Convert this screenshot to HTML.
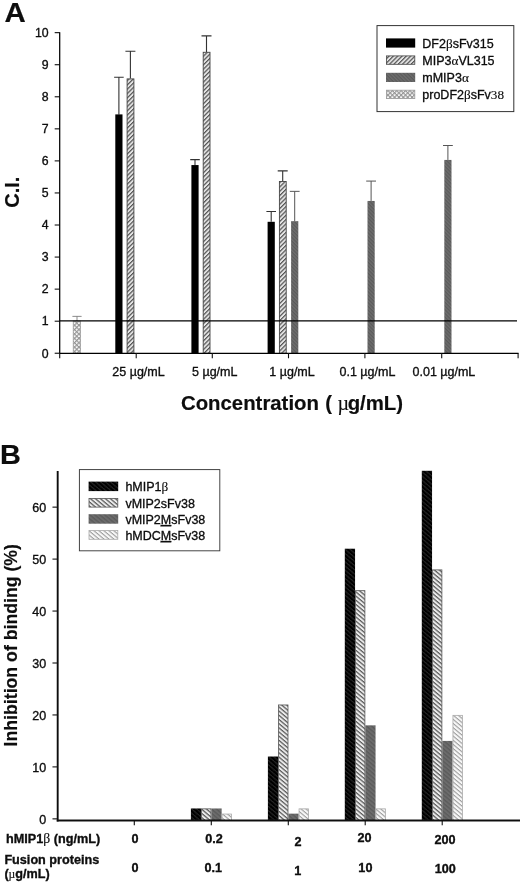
<!DOCTYPE html>
<html><head><meta charset="utf-8"><title>Figure</title>
<style>
html,body{margin:0;padding:0;background:#fff;}
body{width:520px;height:884px;overflow:hidden;}
svg{display:block;}
text{font-family:"Liberation Sans",sans-serif;fill:#0a0a0a;stroke:#0a0a0a;stroke-width:0.3px;}
.b{font-weight:bold;stroke-width:0.15px;}
.t{font-size:12.3px;}
.tb{font-size:12.65px;font-weight:bold;}
.ser{font-family:"Liberation Serif",serif;stroke-width:0.12px;font-weight:normal;}
</style></head><body>
<svg width="520" height="884" viewBox="0 0 520 884">
<defs>
<pattern id="pA2" width="3.05" height="3.05" patternUnits="userSpaceOnUse" patternTransform="rotate(-45)">
<rect width="3.05" height="3.05" fill="#e4e4e4"/><rect width="3.05" height="1.2" fill="#555"/></pattern>
<pattern id="pA3" width="2.6" height="2.6" patternUnits="userSpaceOnUse" patternTransform="rotate(45)">
<rect width="2.6" height="2.6" fill="#6e6e6e"/><rect width="2.6" height="1.2" fill="#5a5a5a"/></pattern>
<pattern id="pA4" width="3.1" height="3.1" patternUnits="userSpaceOnUse" patternTransform="rotate(45)">
<rect width="3.1" height="3.1" fill="#f6f6f6"/><rect width="3.1" height="1.1" fill="#959595"/><rect width="1.1" height="3.1" fill="#959595"/></pattern>
<pattern id="pB1" width="3.2" height="3.2" patternUnits="userSpaceOnUse" patternTransform="rotate(40)">
<rect width="3.2" height="3.2" fill="#000"/><rect width="3.2" height="1.1" fill="#262626"/></pattern>
<pattern id="pB2" width="3.2" height="3.2" patternUnits="userSpaceOnUse" patternTransform="rotate(40)">
<rect width="3.2" height="3.2" fill="#ececec"/><rect width="3.2" height="1.25" fill="#5a5a5a"/></pattern>
<pattern id="pB3" width="3.2" height="3.2" patternUnits="userSpaceOnUse" patternTransform="rotate(40)">
<rect width="3.2" height="3.2" fill="#6c6c6c"/><rect width="3.2" height="1.3" fill="#5a5a5a"/></pattern>
<pattern id="pB4" width="3.2" height="3.2" patternUnits="userSpaceOnUse" patternTransform="rotate(40)">
<rect width="3.2" height="3.2" fill="#f8f8f8"/><rect width="3.2" height="1.1" fill="#9c9c9c"/></pattern>
<filter id="soft" x="0" y="0" width="520" height="884" filterUnits="userSpaceOnUse"><feGaussianBlur stdDeviation="0.38"/></filter>
</defs>
<rect width="520" height="884" fill="#fff"/>
<g filter="url(#soft)">

<text class="b" transform="translate(4.4,22) scale(1.09,1)" font-size="27">A</text>
<line x1="54.7" y1="353.25" x2="59.7" y2="353.25" stroke="#111" stroke-width="1.1"/>
<text class="t" x="48.6" y="357.55" text-anchor="end">0</text>
<line x1="54.7" y1="321.19" x2="59.7" y2="321.19" stroke="#111" stroke-width="1.1"/>
<text class="t" x="48.6" y="325.49" text-anchor="end">1</text>
<line x1="54.7" y1="289.13" x2="59.7" y2="289.13" stroke="#111" stroke-width="1.1"/>
<text class="t" x="48.6" y="293.43" text-anchor="end">2</text>
<line x1="54.7" y1="257.07" x2="59.7" y2="257.07" stroke="#111" stroke-width="1.1"/>
<text class="t" x="48.6" y="261.37" text-anchor="end">3</text>
<line x1="54.7" y1="225.01" x2="59.7" y2="225.01" stroke="#111" stroke-width="1.1"/>
<text class="t" x="48.6" y="229.31" text-anchor="end">4</text>
<line x1="54.7" y1="192.95" x2="59.7" y2="192.95" stroke="#111" stroke-width="1.1"/>
<text class="t" x="48.6" y="197.25" text-anchor="end">5</text>
<line x1="54.7" y1="160.89" x2="59.7" y2="160.89" stroke="#111" stroke-width="1.1"/>
<text class="t" x="48.6" y="165.19" text-anchor="end">6</text>
<line x1="54.7" y1="128.83" x2="59.7" y2="128.83" stroke="#111" stroke-width="1.1"/>
<text class="t" x="48.6" y="133.13" text-anchor="end">7</text>
<line x1="54.7" y1="96.77" x2="59.7" y2="96.77" stroke="#111" stroke-width="1.1"/>
<text class="t" x="48.6" y="101.07" text-anchor="end">8</text>
<line x1="54.7" y1="64.71" x2="59.7" y2="64.71" stroke="#111" stroke-width="1.1"/>
<text class="t" x="48.6" y="69.01" text-anchor="end">9</text>
<line x1="54.7" y1="32.65" x2="59.7" y2="32.65" stroke="#111" stroke-width="1.1"/>
<text class="t" x="48.6" y="36.95" text-anchor="end">10</text>
<text class="b" font-size="20" transform="translate(18.8,207.8) rotate(-90)">C.I.</text>
<path d="M77.00 321.19V316.38M72.40 316.38H81.60" stroke="#777" stroke-width="0.85" fill="none"/>
<rect x="73.2" y="321.19" width="7.4" height="32.06" fill="url(#pA4)" stroke="#999" stroke-width="0.7"/>
<path d="M118.90 114.40V77.21M114.10 77.21H123.70" stroke="#333" stroke-width="1.1" fill="none"/>
<rect x="115.30" y="114.40" width="7.2" height="238.85" fill="#000"/>
<path d="M130.40 78.50V51.24M125.40 51.24H135.40" stroke="#333" stroke-width="1.1" fill="none"/>
<rect x="127.10" y="78.90" width="6.8" height="274.35" fill="url(#pA2)" stroke="#444" stroke-width="0.9"/>
<path d="M195.00 165.06V159.61M190.20 159.61H199.80" stroke="#333" stroke-width="1.1" fill="none"/>
<rect x="191.40" y="165.06" width="7.2" height="188.19" fill="#000"/>
<path d="M206.50 51.89V35.86M201.50 35.86H211.50" stroke="#333" stroke-width="1.1" fill="none"/>
<rect x="203.20" y="52.29" width="6.8" height="300.96" fill="url(#pA2)" stroke="#444" stroke-width="0.9"/>
<path d="M271.20 221.80V211.54M266.40 211.54H276.00" stroke="#333" stroke-width="1.1" fill="none"/>
<rect x="267.60" y="221.80" width="7.2" height="131.45" fill="#000"/>
<path d="M282.70 181.09V170.83M277.70 170.83H287.70" stroke="#333" stroke-width="1.1" fill="none"/>
<rect x="279.40" y="181.49" width="6.8" height="171.76" fill="url(#pA2)" stroke="#444" stroke-width="0.9"/>
<path d="M294.70 221.16V191.35M289.80 191.35H299.60" stroke="#555" stroke-width="1.0" fill="none"/>
<rect x="291.10" y="221.16" width="7.2" height="132.09" fill="url(#pA3)"/>
<path d="M371.10 200.96V181.09M366.20 181.09H376.00" stroke="#555" stroke-width="1.0" fill="none"/>
<rect x="367.50" y="200.96" width="7.2" height="152.29" fill="url(#pA3)"/>
<path d="M447.90 159.93V145.50M443.00 145.50H452.80" stroke="#555" stroke-width="1.0" fill="none"/>
<rect x="444.30" y="159.93" width="7.2" height="193.32" fill="url(#pA3)"/>
<line x1="59.7" y1="32.15" x2="59.7" y2="353.75" stroke="#000" stroke-width="1.25"/>
<line x1="59.7" y1="353.25" x2="518.6" y2="353.25" stroke="#000" stroke-width="1.25"/>
<line x1="59.7" y1="320.8" x2="517" y2="320.8" stroke="#000" stroke-width="1.25"/>
<line x1="59.70" y1="353.25" x2="59.70" y2="358.25" stroke="#111" stroke-width="1.1"/>
<line x1="136.20" y1="353.25" x2="136.20" y2="358.25" stroke="#111" stroke-width="1.1"/>
<line x1="212.30" y1="353.25" x2="212.30" y2="358.25" stroke="#111" stroke-width="1.1"/>
<line x1="288.50" y1="353.25" x2="288.50" y2="358.25" stroke="#111" stroke-width="1.1"/>
<line x1="364.90" y1="353.25" x2="364.90" y2="358.25" stroke="#111" stroke-width="1.1"/>
<line x1="441.70" y1="353.25" x2="441.70" y2="358.25" stroke="#111" stroke-width="1.1"/>
<line x1="518.10" y1="353.25" x2="518.10" y2="358.25" stroke="#111" stroke-width="1.1"/>
<text x="112.3" y="375.6" font-size="12.5">25 µg/mL</text>
<text x="192" y="375.6" font-size="12.5">5 µg/mL</text>
<text x="269.3" y="375.6" font-size="12.5">1 µg/mL</text>
<text x="339.5" y="375.6" font-size="12.5">0.1 µg/mL</text>
<text x="412.5" y="375.6" font-size="12.5">0.01 µg/mL</text>
<text class="b" font-size="20.35" y="410.25"><tspan x="181.0">Concentration</tspan><tspan x="325.3">(</tspan><tspan class="ser" font-size="20" x="337.6">µ</tspan><tspan x="347.7">g/mL)</tspan></text>
<rect x="377" y="25.6" width="136.8" height="86" fill="#fff" stroke="#333" stroke-width="1"/>
<rect x="386" y="38.40" width="29.2" height="9.20" fill="#000"/>
<rect x="386.4" y="55.90" width="28.4" height="8.40" fill="url(#pA2)" stroke="#444" stroke-width="0.8"/>
<rect x="386" y="72.80" width="29.2" height="9.20" fill="url(#pA3)"/>
<rect x="386.4" y="90.20" width="28.4" height="8.40" fill="url(#pA4)" stroke="#999" stroke-width="0.8"/>
<text x="422.3" y="47.6" font-size="12.5">DF2<tspan class="ser" font-size="13.2">β</tspan>sFv315</text>
<text x="422.3" y="64.7" font-size="12.5">MIP3<tspan class="ser" font-size="13.2">α</tspan>VL315</text>
<text x="422.3" y="82.0" font-size="12.5">mMIP3<tspan class="ser" font-size="13.2">α</tspan></text>
<text x="422.3" y="99.0" font-size="12.5">proDF2<tspan class="ser" font-size="13.2">β</tspan>sFv<tspan class="ser" font-size="13.2">38</tspan></text>
<text class="b" transform="translate(0,464.3) scale(1.07,1)" font-size="27">B</text>
<line x1="52.5" y1="818.85" x2="57.7" y2="818.85" stroke="#111" stroke-width="1.1"/>
<text x="46.2" y="823.65" text-anchor="end" font-size="12.5">0</text>
<line x1="52.5" y1="766.90" x2="57.7" y2="766.90" stroke="#111" stroke-width="1.1"/>
<text x="46.2" y="771.70" text-anchor="end" font-size="12.5">10</text>
<line x1="52.5" y1="714.95" x2="57.7" y2="714.95" stroke="#111" stroke-width="1.1"/>
<text x="46.2" y="719.75" text-anchor="end" font-size="12.5">20</text>
<line x1="52.5" y1="663.00" x2="57.7" y2="663.00" stroke="#111" stroke-width="1.1"/>
<text x="46.2" y="667.80" text-anchor="end" font-size="12.5">30</text>
<line x1="52.5" y1="611.05" x2="57.7" y2="611.05" stroke="#111" stroke-width="1.1"/>
<text x="46.2" y="615.85" text-anchor="end" font-size="12.5">40</text>
<line x1="52.5" y1="559.10" x2="57.7" y2="559.10" stroke="#111" stroke-width="1.1"/>
<text x="46.2" y="563.90" text-anchor="end" font-size="12.5">50</text>
<line x1="52.5" y1="507.15" x2="57.7" y2="507.15" stroke="#111" stroke-width="1.1"/>
<text x="46.2" y="511.95" text-anchor="end" font-size="12.5">60</text>
<text class="b" font-size="17.7" transform="translate(17.3,746.4) rotate(-90)">Inhibition of binding (%)</text>
<rect x="190.90" y="808.46" width="10.25" height="12.09" fill="url(#pB1)"/>
<rect x="201.55" y="808.86" width="9.45" height="11.69" fill="url(#pB2)" stroke="#555" stroke-width="0.8"/>
<rect x="211.40" y="808.46" width="10.25" height="12.09" fill="url(#pB3)"/>
<rect x="222.05" y="814.05" width="9.45" height="6.49" fill="url(#pB4)" stroke="#aaa" stroke-width="0.8"/>
<rect x="267.90" y="756.51" width="10.25" height="64.04" fill="url(#pB1)"/>
<rect x="278.55" y="704.96" width="9.45" height="115.59" fill="url(#pB2)" stroke="#555" stroke-width="0.8"/>
<rect x="288.40" y="813.65" width="10.25" height="6.89" fill="url(#pB3)"/>
<rect x="299.05" y="808.86" width="9.45" height="11.69" fill="url(#pB4)" stroke="#aaa" stroke-width="0.8"/>
<rect x="344.80" y="548.71" width="10.25" height="271.84" fill="url(#pB1)"/>
<rect x="355.45" y="590.67" width="9.45" height="229.88" fill="url(#pB2)" stroke="#555" stroke-width="0.8"/>
<rect x="365.30" y="725.34" width="10.25" height="95.21" fill="url(#pB3)"/>
<rect x="375.95" y="808.86" width="9.45" height="11.69" fill="url(#pB4)" stroke="#aaa" stroke-width="0.8"/>
<rect x="421.80" y="470.79" width="10.25" height="349.76" fill="url(#pB1)"/>
<rect x="432.45" y="569.89" width="9.45" height="250.66" fill="url(#pB2)" stroke="#555" stroke-width="0.8"/>
<rect x="442.30" y="740.92" width="10.25" height="79.62" fill="url(#pB3)"/>
<rect x="452.95" y="715.35" width="9.45" height="105.20" fill="url(#pB4)" stroke="#aaa" stroke-width="0.8"/>
<line x1="57.7" y1="471" x2="57.7" y2="821.50" stroke="#111" stroke-width="1.9"/>
<line x1="56.75" y1="820.55" x2="520" y2="820.55" stroke="#111" stroke-width="1.9"/>
<line x1="134.30" y1="820.55" x2="134.30" y2="825.15" stroke="#111" stroke-width="1.1"/>
<line x1="211.30" y1="820.55" x2="211.30" y2="825.15" stroke="#111" stroke-width="1.1"/>
<line x1="288.30" y1="820.55" x2="288.30" y2="825.15" stroke="#111" stroke-width="1.1"/>
<line x1="365.20" y1="820.55" x2="365.20" y2="825.15" stroke="#111" stroke-width="1.1"/>
<line x1="442.20" y1="820.55" x2="442.20" y2="825.15" stroke="#111" stroke-width="1.1"/>
<text class="tb" x="6.1" y="842.5" font-size="12.75">hMIP1<tspan class="ser" font-size="13.6">β</tspan> (ng/mL)</text>
<text class="tb" x="4.4" y="863.6">Fusion proteins</text>
<text class="tb" x="4.4" y="878.1">(<tspan class="ser" font-size="11.6">µ</tspan>g/mL)</text>
<text class="tb" x="135.1" y="842.8" text-anchor="middle">0</text>
<text class="tb" x="214" y="842.8" text-anchor="middle">0.2</text>
<text class="tb" x="298.1" y="846" text-anchor="middle">2</text>
<text class="tb" x="364.6" y="842.1" text-anchor="middle">20</text>
<text class="tb" x="445" y="844.1" text-anchor="middle">200</text>
<text class="tb" x="135.1" y="872.3" text-anchor="middle">0</text>
<text class="tb" x="213.3" y="872.3" text-anchor="middle">0.1</text>
<text class="tb" x="297.8" y="875.3" text-anchor="middle">1</text>
<text class="tb" x="365.4" y="872.2" text-anchor="middle">10</text>
<text class="tb" x="445.2" y="873.1" text-anchor="middle">100</text>
<rect x="79.4" y="469.6" width="140.4" height="81.2" fill="#fff" stroke="#3a3a3a" stroke-width="0.95"/>
<rect x="88.6" y="481.60" width="29.6" height="9.50" fill="url(#pB1)"/>
<rect x="89.0" y="498.40" width="28.8" height="8.70" fill="url(#pB2)" stroke="#555" stroke-width="0.8"/>
<rect x="88.6" y="514.20" width="29.6" height="9.50" fill="url(#pB3)"/>
<rect x="89.0" y="530.60" width="28.8" height="8.70" fill="url(#pB4)" stroke="#aaa" stroke-width="0.8"/>
<text x="125.4" y="491.4" font-size="12.5">hMIP1<tspan class="ser" font-size="13.2">β</tspan></text>
<text x="125.4" y="507.8" font-size="12.5">vMIP2sFv38</text>
<text x="125.4" y="524.0" font-size="12.5">vMIP2<tspan text-decoration="underline">M</tspan>sFv38</text>
<text x="125.4" y="540.0" font-size="12.5">hMDC<tspan text-decoration="underline">M</tspan>sFv38</text>
</g></svg></body></html>
